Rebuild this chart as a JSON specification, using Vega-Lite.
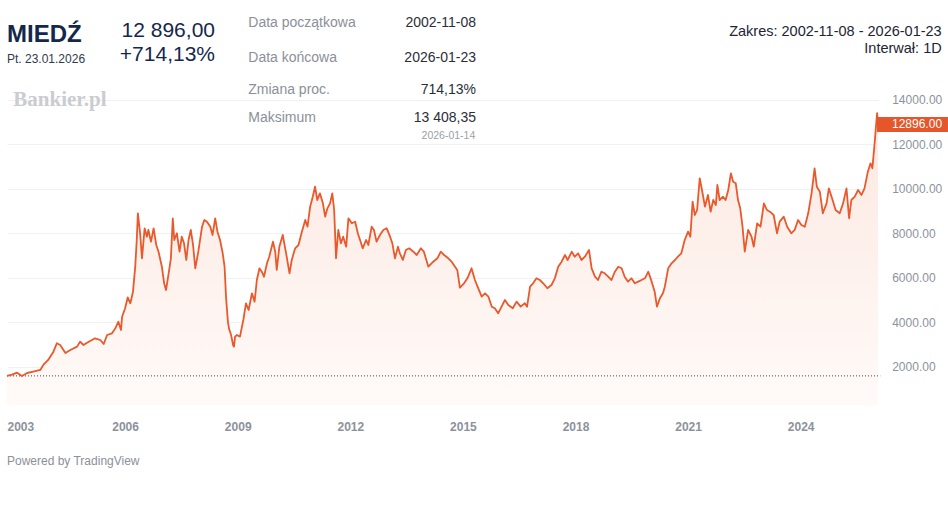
{
  "$schema": "https://vega.github.io/schema/vega-lite/v6.json",
  "width": 871,
  "height": 405,
  "autosize": {"type": "none"},
  "padding": {"left": 7, "top": 0, "right": 70, "bottom": 111},
  "background": "white",
  "config": {"view": {"stroke": null}, "font": "Liberation Sans"},
  "datasets": {
    "copper": [
      {"t": 2002.853, "v": 1584}, {"t": 2002.99, "v": 1640}, {"t": 2003.12, "v": 1728}, {"t": 2003.25, "v": 1580},
      {"t": 2003.39, "v": 1714}, {"t": 2003.55, "v": 1773}, {"t": 2003.74, "v": 1849}, {"t": 2003.82, "v": 2074},
      {"t": 2003.95, "v": 2300}, {"t": 2004.09, "v": 2673}, {"t": 2004.18, "v": 3050}, {"t": 2004.27, "v": 2974},
      {"t": 2004.41, "v": 2614}, {"t": 2004.54, "v": 2749}, {"t": 2004.72, "v": 2899}, {"t": 2004.80, "v": 3123},
      {"t": 2004.89, "v": 2974}, {"t": 2005.03, "v": 3123}, {"t": 2005.20, "v": 3275}, {"t": 2005.34, "v": 3199},
      {"t": 2005.43, "v": 3019}, {"t": 2005.52, "v": 3424}, {"t": 2005.65, "v": 3500}, {"t": 2005.74, "v": 3725},
      {"t": 2005.82, "v": 4024}, {"t": 2005.89, "v": 3649}, {"t": 2005.92, "v": 4248}, {"t": 2006.00, "v": 4625},
      {"t": 2006.07, "v": 5120}, {"t": 2006.14, "v": 4850}, {"t": 2006.21, "v": 5372}, {"t": 2006.27, "v": 6497},
      {"t": 2006.31, "v": 7699}, {"t": 2006.34, "v": 8900}, {"t": 2006.40, "v": 8000}, {"t": 2006.45, "v": 6875},
      {"t": 2006.52, "v": 8225}, {"t": 2006.58, "v": 7847}, {"t": 2006.62, "v": 8149}, {"t": 2006.69, "v": 7622},
      {"t": 2006.76, "v": 8225}, {"t": 2006.83, "v": 7473}, {"t": 2006.89, "v": 7172}, {"t": 2006.98, "v": 6497},
      {"t": 2007.04, "v": 5750}, {"t": 2007.09, "v": 5449}, {"t": 2007.16, "v": 6200}, {"t": 2007.22, "v": 6875},
      {"t": 2007.27, "v": 8675}, {"t": 2007.31, "v": 7699}, {"t": 2007.38, "v": 8000}, {"t": 2007.45, "v": 7172},
      {"t": 2007.51, "v": 7847}, {"t": 2007.57, "v": 7550}, {"t": 2007.63, "v": 6799}, {"t": 2007.69, "v": 7699},
      {"t": 2007.75, "v": 8149}, {"t": 2007.81, "v": 7473}, {"t": 2007.87, "v": 6425}, {"t": 2007.95, "v": 7172},
      {"t": 2008.05, "v": 8297}, {"t": 2008.11, "v": 8599}, {"t": 2008.18, "v": 8522}, {"t": 2008.27, "v": 8297},
      {"t": 2008.33, "v": 7924}, {"t": 2008.40, "v": 8675}, {"t": 2008.46, "v": 8072}, {"t": 2008.53, "v": 7699},
      {"t": 2008.60, "v": 7100}, {"t": 2008.65, "v": 6500}, {"t": 2008.69, "v": 5100}, {"t": 2008.74, "v": 4000},
      {"t": 2008.77, "v": 3700}, {"t": 2008.82, "v": 3450}, {"t": 2008.88, "v": 2950}, {"t": 2008.90, "v": 2899},
      {"t": 2008.93, "v": 3350}, {"t": 2008.98, "v": 3424}, {"t": 2009.06, "v": 3348}, {"t": 2009.15, "v": 4099},
      {"t": 2009.22, "v": 4850}, {"t": 2009.29, "v": 4549}, {"t": 2009.38, "v": 5300}, {"t": 2009.45, "v": 4924},
      {"t": 2009.51, "v": 5899}, {"t": 2009.58, "v": 6425}, {"t": 2009.64, "v": 6272}, {"t": 2009.70, "v": 6047},
      {"t": 2009.78, "v": 6650}, {"t": 2009.84, "v": 6947}, {"t": 2009.94, "v": 7622}, {"t": 2010.00, "v": 7172},
      {"t": 2010.04, "v": 6349}, {"t": 2010.11, "v": 7397}, {"t": 2010.20, "v": 7924}, {"t": 2010.29, "v": 7100},
      {"t": 2010.38, "v": 6200}, {"t": 2010.44, "v": 6799}, {"t": 2010.53, "v": 7325}, {"t": 2010.62, "v": 7473},
      {"t": 2010.71, "v": 8072}, {"t": 2010.80, "v": 8599}, {"t": 2010.86, "v": 8297}, {"t": 2010.93, "v": 9197},
      {"t": 2011.00, "v": 9647}, {"t": 2011.06, "v": 10097}, {"t": 2011.12, "v": 9498}, {"t": 2011.19, "v": 9798},
      {"t": 2011.27, "v": 9348}, {"t": 2011.33, "v": 8748}, {"t": 2011.39, "v": 9123}, {"t": 2011.46, "v": 9348},
      {"t": 2011.52, "v": 9798}, {"t": 2011.57, "v": 9048}, {"t": 2011.62, "v": 6875}, {"t": 2011.68, "v": 8149},
      {"t": 2011.75, "v": 7550}, {"t": 2011.81, "v": 7847}, {"t": 2011.89, "v": 7397}, {"t": 2011.95, "v": 8675},
      {"t": 2012.04, "v": 8450}, {"t": 2012.13, "v": 8522}, {"t": 2012.20, "v": 8000}, {"t": 2012.26, "v": 7699},
      {"t": 2012.33, "v": 7325}, {"t": 2012.42, "v": 7699}, {"t": 2012.48, "v": 7473}, {"t": 2012.57, "v": 8297},
      {"t": 2012.63, "v": 8149}, {"t": 2012.70, "v": 7622}, {"t": 2012.79, "v": 7924}, {"t": 2012.88, "v": 8149},
      {"t": 2012.97, "v": 8225}, {"t": 2013.06, "v": 7847}, {"t": 2013.12, "v": 7550}, {"t": 2013.19, "v": 6875},
      {"t": 2013.27, "v": 7397}, {"t": 2013.32, "v": 7100}, {"t": 2013.40, "v": 6799}, {"t": 2013.48, "v": 7249},
      {"t": 2013.57, "v": 7325}, {"t": 2013.68, "v": 7172}, {"t": 2013.77, "v": 7024}, {"t": 2013.88, "v": 7325},
      {"t": 2013.96, "v": 7172}, {"t": 2014.08, "v": 6497}, {"t": 2014.21, "v": 6722}, {"t": 2014.32, "v": 6875},
      {"t": 2014.41, "v": 7172}, {"t": 2014.50, "v": 7024}, {"t": 2014.61, "v": 6875}, {"t": 2014.70, "v": 6722},
      {"t": 2014.79, "v": 6497}, {"t": 2014.85, "v": 6349}, {"t": 2014.92, "v": 5550}, {"t": 2015.03, "v": 5750},
      {"t": 2015.12, "v": 5975}, {"t": 2015.23, "v": 6425}, {"t": 2015.32, "v": 5899}, {"t": 2015.41, "v": 5525},
      {"t": 2015.50, "v": 5148}, {"t": 2015.59, "v": 5300}, {"t": 2015.68, "v": 5148}, {"t": 2015.77, "v": 4698},
      {"t": 2015.85, "v": 4625}, {"t": 2015.94, "v": 4400}, {"t": 2016.03, "v": 4698}, {"t": 2016.12, "v": 4999},
      {"t": 2016.21, "v": 4774}, {"t": 2016.33, "v": 4625}, {"t": 2016.43, "v": 4924}, {"t": 2016.54, "v": 4698},
      {"t": 2016.65, "v": 4850}, {"t": 2016.71, "v": 4698}, {"t": 2016.79, "v": 5597}, {"t": 2016.87, "v": 5750},
      {"t": 2016.96, "v": 5975}, {"t": 2017.05, "v": 5899}, {"t": 2017.14, "v": 5750}, {"t": 2017.25, "v": 5525},
      {"t": 2017.36, "v": 5674}, {"t": 2017.45, "v": 5975}, {"t": 2017.54, "v": 6497}, {"t": 2017.63, "v": 6722},
      {"t": 2017.72, "v": 7024}, {"t": 2017.79, "v": 6799}, {"t": 2017.90, "v": 7172}, {"t": 2017.98, "v": 6947},
      {"t": 2018.07, "v": 7100}, {"t": 2018.16, "v": 6799}, {"t": 2018.25, "v": 6947}, {"t": 2018.36, "v": 7249},
      {"t": 2018.43, "v": 6425}, {"t": 2018.52, "v": 6047}, {"t": 2018.60, "v": 5899}, {"t": 2018.69, "v": 6272},
      {"t": 2018.78, "v": 6200}, {"t": 2018.87, "v": 6047}, {"t": 2018.96, "v": 5899}, {"t": 2019.05, "v": 6272},
      {"t": 2019.14, "v": 6497}, {"t": 2019.23, "v": 6425}, {"t": 2019.31, "v": 6047}, {"t": 2019.40, "v": 5824},
      {"t": 2019.49, "v": 5975}, {"t": 2019.58, "v": 5750}, {"t": 2019.67, "v": 5824}, {"t": 2019.76, "v": 5899},
      {"t": 2019.85, "v": 5975}, {"t": 2019.94, "v": 6272}, {"t": 2020.03, "v": 5824}, {"t": 2020.11, "v": 5372},
      {"t": 2020.17, "v": 4698}, {"t": 2020.25, "v": 5075}, {"t": 2020.33, "v": 5300}, {"t": 2020.38, "v": 5597},
      {"t": 2020.47, "v": 6425}, {"t": 2020.56, "v": 6650}, {"t": 2020.65, "v": 6799}, {"t": 2020.73, "v": 6947},
      {"t": 2020.82, "v": 7100}, {"t": 2020.91, "v": 7699}, {"t": 2021.00, "v": 8072}, {"t": 2021.06, "v": 7847},
      {"t": 2021.12, "v": 9422}, {"t": 2021.18, "v": 8823}, {"t": 2021.24, "v": 9048}, {"t": 2021.31, "v": 10475},
      {"t": 2021.37, "v": 9948}, {"t": 2021.45, "v": 9197}, {"t": 2021.53, "v": 9723}, {"t": 2021.60, "v": 8972},
      {"t": 2021.67, "v": 9498}, {"t": 2021.74, "v": 9273}, {"t": 2021.78, "v": 10173}, {"t": 2021.84, "v": 9498},
      {"t": 2021.93, "v": 9647}, {"t": 2022.00, "v": 9498}, {"t": 2022.07, "v": 9948}, {"t": 2022.14, "v": 10700},
      {"t": 2022.20, "v": 10322}, {"t": 2022.27, "v": 10250}, {"t": 2022.33, "v": 9498}, {"t": 2022.39, "v": 9123},
      {"t": 2022.45, "v": 8297}, {"t": 2022.51, "v": 7172}, {"t": 2022.60, "v": 8149}, {"t": 2022.69, "v": 7847},
      {"t": 2022.75, "v": 7397}, {"t": 2022.84, "v": 8450}, {"t": 2022.93, "v": 8297}, {"t": 2023.02, "v": 9348},
      {"t": 2023.10, "v": 9048}, {"t": 2023.18, "v": 8972}, {"t": 2023.28, "v": 8823}, {"t": 2023.37, "v": 8000},
      {"t": 2023.44, "v": 8522}, {"t": 2023.55, "v": 8748}, {"t": 2023.64, "v": 8297}, {"t": 2023.75, "v": 8000},
      {"t": 2023.84, "v": 8149}, {"t": 2023.93, "v": 8599}, {"t": 2024.02, "v": 8374}, {"t": 2024.11, "v": 8297},
      {"t": 2024.20, "v": 8900}, {"t": 2024.29, "v": 9798}, {"t": 2024.37, "v": 10925}, {"t": 2024.43, "v": 10097},
      {"t": 2024.51, "v": 9872}, {"t": 2024.59, "v": 8900}, {"t": 2024.69, "v": 9348}, {"t": 2024.75, "v": 10023},
      {"t": 2024.85, "v": 9498}, {"t": 2024.93, "v": 9048}, {"t": 2025.04, "v": 8900}, {"t": 2025.13, "v": 9348},
      {"t": 2025.22, "v": 10023}, {"t": 2025.29, "v": 8675}, {"t": 2025.35, "v": 9498}, {"t": 2025.44, "v": 9647},
      {"t": 2025.53, "v": 9948}, {"t": 2025.62, "v": 9723}, {"t": 2025.70, "v": 10023}, {"t": 2025.79, "v": 10772},
      {"t": 2025.86, "v": 11149}, {"t": 2025.91, "v": 10925}, {"t": 2025.97, "v": 12049}, {"t": 2026.036, "v": 13408},
      {"t": 2026.06, "v": 12896}
    ]
  },
  "layer": [
    {
      "data": {"name": "copper"},
      "mark": {
        "type": "area",
        "color": {"gradient": "linear", "x1": 0, "y1": 0, "x2": 0, "y2": 1,
          "stops": [{"offset": 0, "color": "#fce8e1"}, {"offset": 1, "color": "#fffaf8"}]}
      },
      "encoding": {
        "x": {
          "field": "t", "type": "quantitative",
          "scale": {"domain": [2002.853, 2026.06], "nice": false, "zero": false},
          "axis": {
            "title": null, "values": [2003, 2006, 2009, 2012, 2015, 2018, 2021, 2024], "format": "d",
            "domain": false, "ticks": false, "tickSize": 0, "grid": false,
            "labelFlush": 20, "labelFlushOffset": 5.5,
            "labelBaseline": "alphabetic", "labelPadding": 25.7,
            "labelFontSize": 12, "labelFontWeight": "bold", "labelColor": "#8c929c", "labelFont": "Liberation Sans"
          }
        },
        "y": {
          "field": "v", "type": "quantitative",
          "scale": {"domain": [274, 18497], "nice": false, "zero": false},
          "axis": {
            "title": null, "orient": "right", "values": [2000, 4000, 6000, 8000, 10000, 12000, 14000], "format": ".2f",
            "domain": false, "ticks": false, "tickSize": 0, "grid": true, "gridColor": "#f0f1f3", "gridWidth": 1,
            "labelPadding": 13.7, "labelFontSize": 12, "labelColor": "#8c929c", "labelFont": "Liberation Sans"
          }
        },
        "y2": {"datum": 274}
      }
    },
    {
      "data": {"values": [{"k": 1}]},
      "mark": {"type": "rule", "color": "#444444", "strokeDash": [1, 2], "strokeWidth": 1},
      "encoding": {"x": {"datum": 2002.853, "type": "quantitative"}, "x2": {"datum": 2026.12}, "y": {"datum": 1584, "type": "quantitative"}}
    },
    {
      "data": {"name": "copper"},
      "mark": {"type": "line", "color": "#e9592b", "strokeWidth": 1.8, "strokeJoin": "round"},
      "encoding": {"x": {"field": "t", "type": "quantitative"}, "y": {"field": "v", "type": "quantitative"}}
    },
    {
      "data": {"name": "copper"},
      "transform": [{"filter": "datum.t == 2026.06"}],
      "mark": {"type": "point", "shape": "M-0.13,-1H9.33V1H-0.13Z", "filled": true, "color": "#e5562a", "size": 225, "opacity": 1, "strokeWidth": 0},
      "encoding": {"x": {"field": "t", "type": "quantitative"}, "y": {"field": "v", "type": "quantitative"}}
    },
    {
      "data": {"name": "copper"},
      "transform": [{"filter": "datum.t == 2026.06"}],
      "mark": {"type": "text", "align": "left", "baseline": "middle", "dx": 14, "color": "#ffffff", "fontSize": 12, "font": "Liberation Sans"},
      "encoding": {"x": {"field": "t", "type": "quantitative"}, "y": {"field": "v", "type": "quantitative"}, "text": {"field": "v", "type": "quantitative", "format": ".2f"}}
    },
    {
      "data": {"values": [{"k": 1}]},
      "mark": {"type": "text", "text": "MIEDŹ", "align": "left", "baseline": "alphabetic", "fontSize": 24, "fontWeight": "bold", "color": "#14284b"},
      "encoding": {"x": {"datum": 2002.853, "type": "quantitative"}, "y": {"datum": 16607, "type": "quantitative"}}
    },
    {
      "data": {"values": [{"k": 1}]},
      "mark": {"type": "text", "text": "Pt. 23.01.2026", "align": "left", "baseline": "alphabetic", "fontSize": 12, "color": "#2f3a4a"},
      "encoding": {"x": {"datum": 2002.853, "type": "quantitative"}, "y": {"datum": 15662, "type": "quantitative"}}
    },
    {
      "data": {"values": [{"k": 1}]},
      "mark": {"type": "text", "text": "12 896,00", "align": "right", "baseline": "alphabetic", "fontSize": 21, "color": "#14284b"},
      "encoding": {"x": {"datum": 2008.395, "type": "quantitative"}, "y": {"datum": 16854, "type": "quantitative"}}
    },
    {
      "data": {"values": [{"k": 1}]},
      "mark": {"type": "text", "text": "+714,13%", "align": "right", "baseline": "alphabetic", "fontSize": 21, "color": "#14284b"},
      "encoding": {"x": {"datum": 2008.395, "type": "quantitative"}, "y": {"datum": 15766, "type": "quantitative"}}
    },
    {
      "data": {"values": [{"k": 1}]},
      "mark": {"type": "text", "text": "Data początkowa", "align": "left", "baseline": "alphabetic", "fontSize": 14, "color": "#8b9099"},
      "encoding": {"x": {"datum": 2009.282, "type": "quantitative"}, "y": {"datum": 17295, "type": "quantitative"}}
    },
    {
      "data": {"values": [{"k": 1}]},
      "mark": {"type": "text", "text": "Data końcowa", "align": "left", "baseline": "alphabetic", "fontSize": 14, "color": "#8b9099"},
      "encoding": {"x": {"datum": 2009.282, "type": "quantitative"}, "y": {"datum": 15720, "type": "quantitative"}}
    },
    {
      "data": {"values": [{"k": 1}]},
      "mark": {"type": "text", "text": "Zmiana proc.", "align": "left", "baseline": "alphabetic", "fontSize": 14, "color": "#8b9099"},
      "encoding": {"x": {"datum": 2009.282, "type": "quantitative"}, "y": {"datum": 14267, "type": "quantitative"}}
    },
    {
      "data": {"values": [{"k": 1}]},
      "mark": {"type": "text", "text": "Maksimum", "align": "left", "baseline": "alphabetic", "fontSize": 14, "color": "#8b9099"},
      "encoding": {"x": {"datum": 2009.282, "type": "quantitative"}, "y": {"datum": 13007, "type": "quantitative"}}
    },
    {
      "data": {"values": [{"k": 1}]},
      "mark": {"type": "text", "text": "2002-11-08", "align": "right", "baseline": "alphabetic", "fontSize": 14, "color": "#2a2e39"},
      "encoding": {"x": {"datum": 2015.349, "type": "quantitative"}, "y": {"datum": 17295, "type": "quantitative"}}
    },
    {
      "data": {"values": [{"k": 1}]},
      "mark": {"type": "text", "text": "2026-01-23", "align": "right", "baseline": "alphabetic", "fontSize": 14, "color": "#2a2e39"},
      "encoding": {"x": {"datum": 2015.349, "type": "quantitative"}, "y": {"datum": 15720, "type": "quantitative"}}
    },
    {
      "data": {"values": [{"k": 1}]},
      "mark": {"type": "text", "text": "714,13%", "align": "right", "baseline": "alphabetic", "fontSize": 14, "color": "#2a2e39"},
      "encoding": {"x": {"datum": 2015.349, "type": "quantitative"}, "y": {"datum": 14267, "type": "quantitative"}}
    },
    {
      "data": {"values": [{"k": 1}]},
      "mark": {"type": "text", "text": "13 408,35", "align": "right", "baseline": "alphabetic", "fontSize": 14, "color": "#2a2e39"},
      "encoding": {"x": {"datum": 2015.349, "type": "quantitative"}, "y": {"datum": 13007, "type": "quantitative"}}
    },
    {
      "data": {"values": [{"k": 1}]},
      "mark": {"type": "text", "text": "2026-01-14", "align": "right", "baseline": "alphabetic", "fontSize": 10.5, "color": "#9b9fa6"},
      "encoding": {"x": {"datum": 2015.33, "type": "quantitative"}, "y": {"datum": 12242, "type": "quantitative"}}
    },
    {
      "data": {"values": [{"k": 1}]},
      "mark": {"type": "text", "text": "Bankier.pl", "align": "left", "baseline": "alphabetic", "fontSize": 21, "fontWeight": "bold", "font": "Liberation Serif", "color": "#caccd1"},
      "encoding": {"x": {"datum": 2003.021, "type": "quantitative"}, "y": {"datum": 13727, "type": "quantitative"}}
    },
    {
      "data": {"values": [{"k": 1}]},
      "mark": {"type": "text", "text": "Zakres: 2002-11-08 - 2026-01-23", "align": "right", "baseline": "alphabetic", "fontSize": 14.5, "color": "#1e2433"},
      "encoding": {"x": {"datum": 2027.757, "type": "quantitative"}, "y": {"datum": 16877, "type": "quantitative"}}
    },
    {
      "data": {"values": [{"k": 1}]},
      "mark": {"type": "text", "text": "Interwał: 1D", "align": "right", "baseline": "alphabetic", "fontSize": 14.5, "color": "#1e2433"},
      "encoding": {"x": {"datum": 2027.757, "type": "quantitative"}, "y": {"datum": 16112, "type": "quantitative"}}
    },
    {
      "data": {"values": [{"k": 1}]},
      "mark": {"type": "text", "text": "Powered by TradingView", "align": "left", "baseline": "alphabetic", "fontSize": 12, "color": "#8b9099"},
      "encoding": {"x": {"datum": 2002.853, "type": "quantitative"}, "y": {"datum": -2448, "type": "quantitative"}}
    }
  ]
}
